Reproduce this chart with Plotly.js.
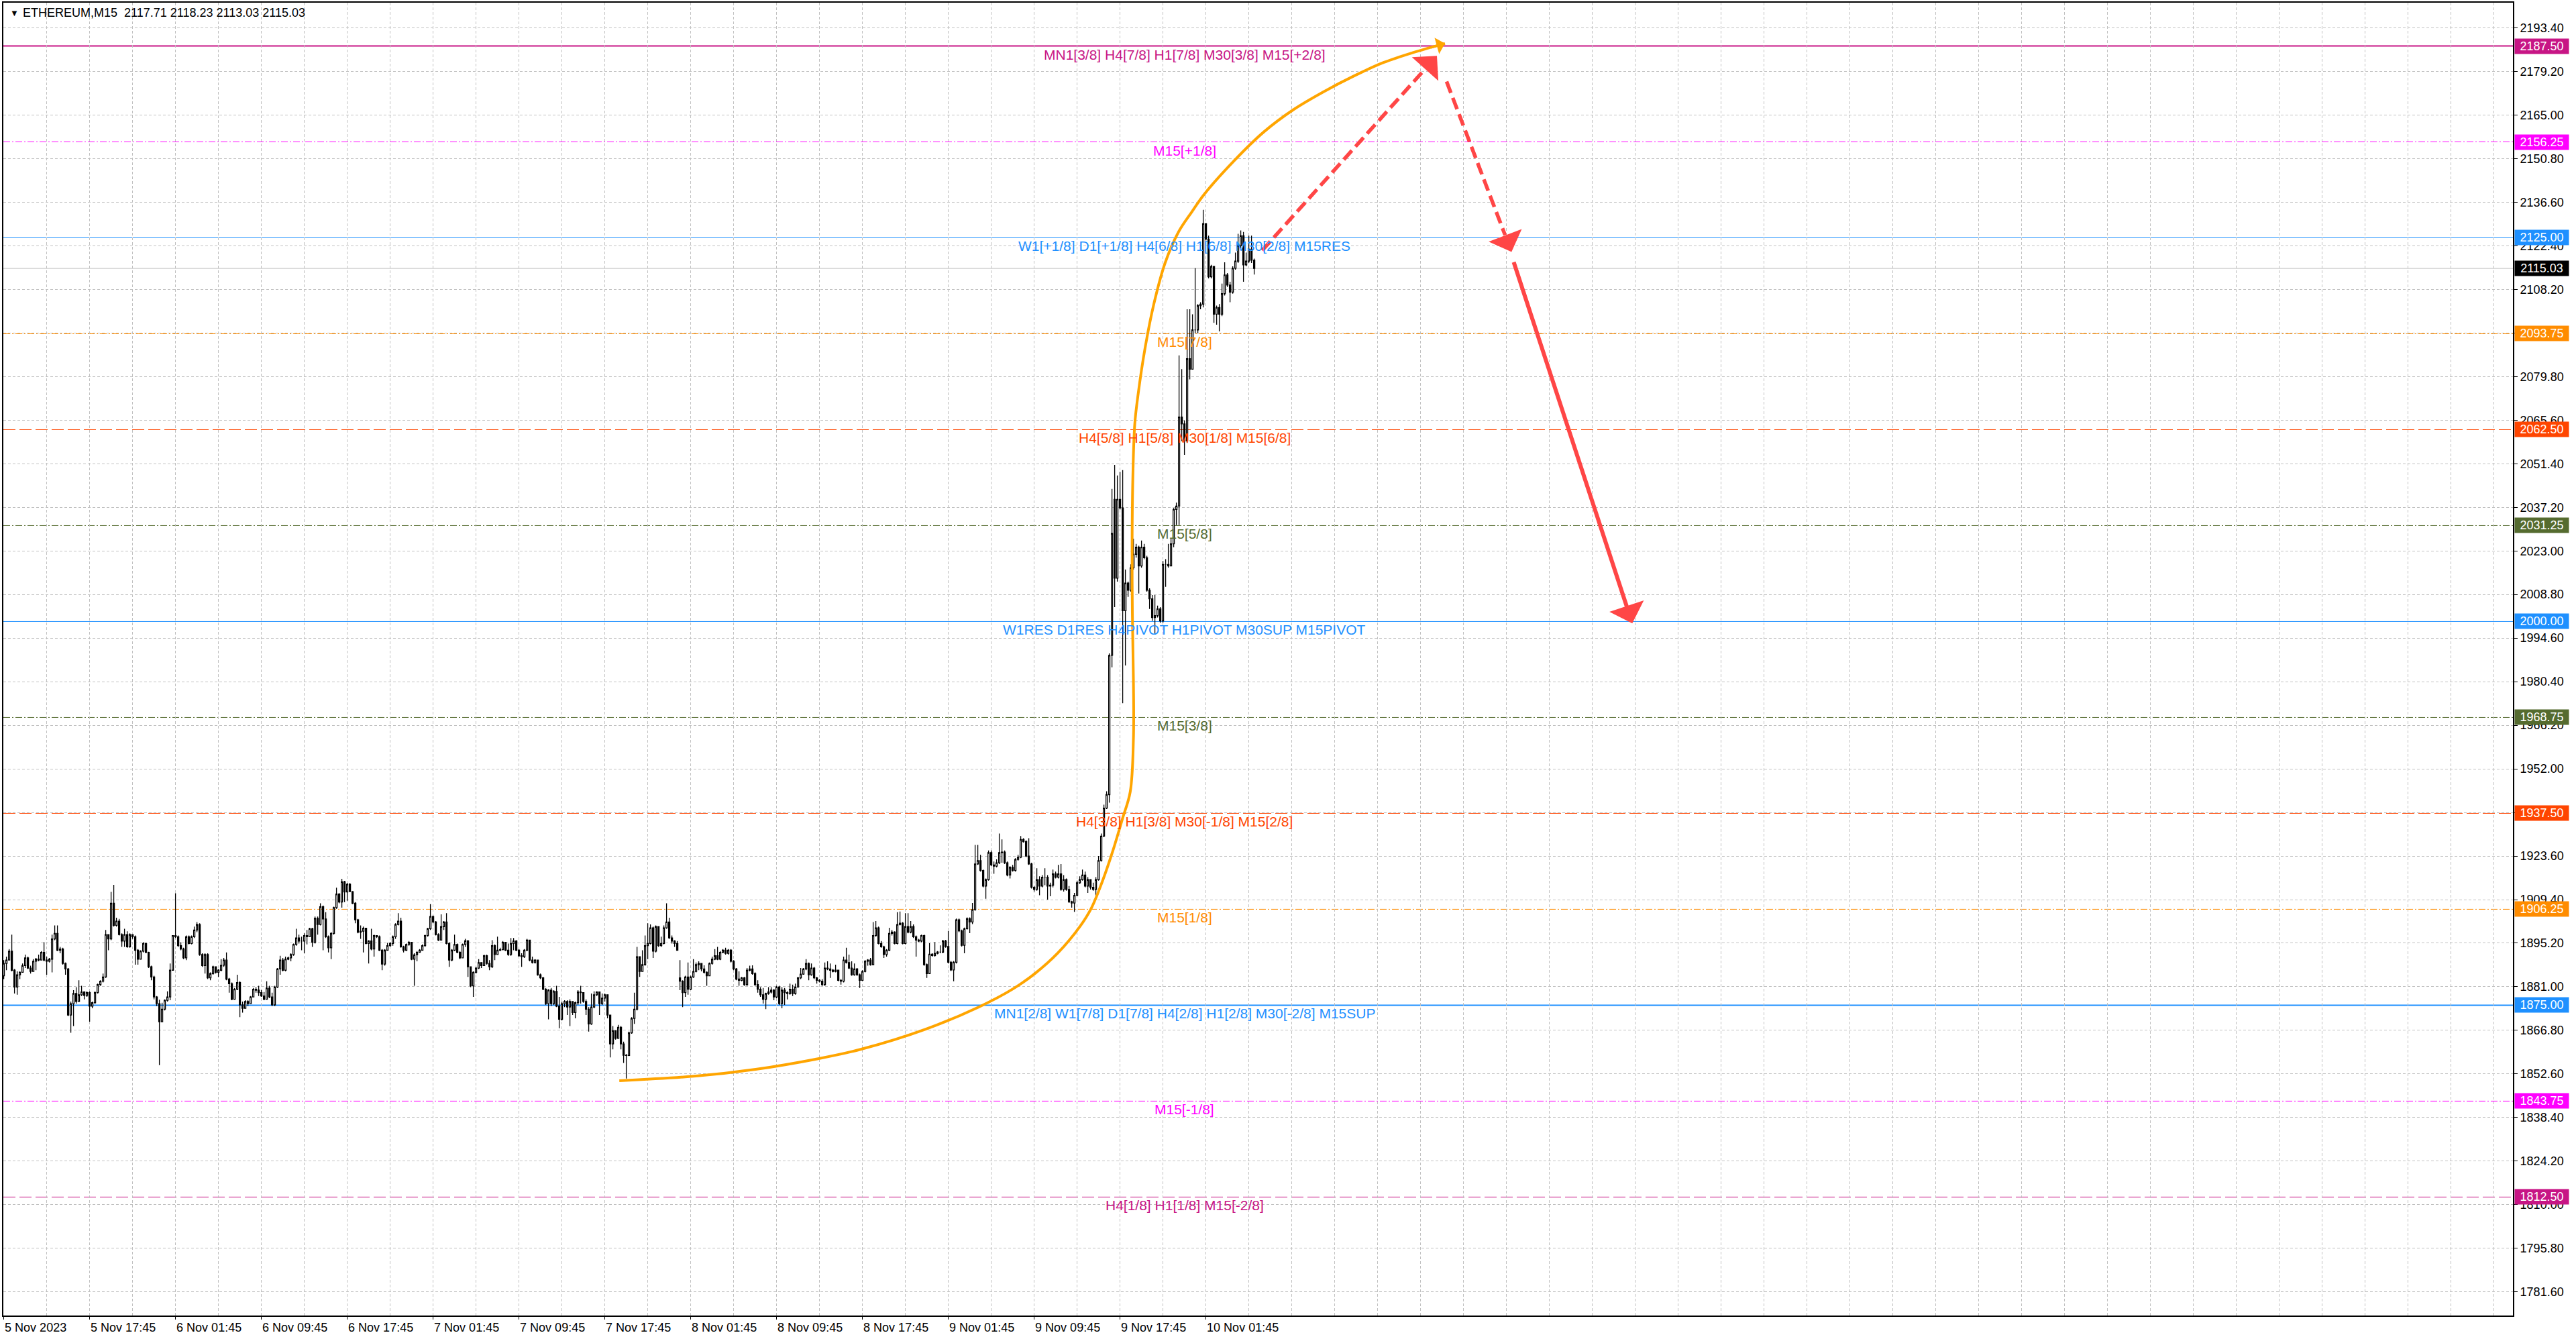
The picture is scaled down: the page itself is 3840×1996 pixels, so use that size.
<!DOCTYPE html>
<html><head><meta charset="utf-8">
<script src="https://cdn.plot.ly/plotly-3.0.1.min.js"></script>
<style>html,body{margin:0;padding:0;background:#fff;}#chart{width:3840px;height:1996px;}</style>
</head><body><div id="chart"></div>
<script>
// ---------- DATA (M15 bars, index 0 = 5 Nov 2023 09:45) ----------
const firstOpen = 1884.6;
const gapOpens = {252: 1883.9, 414: 2039.8};

const closes = [
1888.6,1889.7,1892.6,1886.4,1880.9,1884.9,1885.7,1887.9,1890.4,1887.1,
1886.0,1889.3,1890.0,1889.7,1892.2,1889.7,1889.3,1890.0,1896.6,1898.4,
1892.9,1893.3,1888.6,1886.8,1871.8,1875.5,1878.8,1876.2,1878.4,1879.3,
1878.2,1879.1,1874.7,1875.8,1879.1,1881.7,1882.8,1884.2,1898.0,1896.6,
1908.2,1901.0,1902.4,1898.0,1895.9,1898.0,1894.0,1898.0,1897.3,1892.9,
1890.0,1892.6,1895.1,1892.2,1887.5,1884.2,1877.7,1875.5,1869.6,1873.7,
1876.6,1877.7,1886.4,1897.7,1897.3,1894.4,1893.3,1890.4,1897.3,1895.1,
1897.3,1899.5,1901.3,1891.5,1887.9,1891.5,1883.9,1885.3,1887.5,1885.7,
1886.4,1888.0,1889.7,1883.5,1882.0,1876.9,1880.2,1882.4,1875.1,1874.0,
1876.2,1875.5,1877.7,1880.2,1879.9,1879.1,1878.0,1876.9,1880.6,1877.7,
1875.1,1880.9,1886.8,1889.7,1886.4,1890.0,1890.4,1891.5,1894.8,1896.9,
1895.9,1895.9,1897.7,1897.3,1899.9,1895.5,1903.3,1901.3,1907.1,1903.1,
1897.3,1893.7,1898.4,1906.8,1911.2,1908.6,1915.2,1911.9,1914.4,1912.0,
1908.2,1902.8,1898.8,1899.1,1900.1,1895.1,1895.9,1893.3,1897.7,1897.3,
1892.9,1888.4,1892.9,1894.4,1895.1,1897.3,1901.3,1902.4,1894.0,1892.9,
1894.8,1895.5,1890.0,1891.4,1892.2,1892.9,1894.4,1897.7,1899.9,1903.9,
1902.1,1898.0,1896.2,1900.6,1902.1,1895.1,1889.7,1892.9,1894.8,1892.2,
1890.4,1894.8,1896.0,
1887.5,1881.3,1885.7,1887.1,1888.9,1887.9,1891.1,1888.6,
1887.5,1894.4,1891.5,1892.9,1893.1,1895.5,1892.9,1891.5,1895.1,1895.9,
1892.9,1891.1,1890.8,1892.9,1896.2,1889.7,1888.9,1889.7,1884.9,1883.9,
1880.2,1875.5,1879.9,1875.5,1879.5,1874.7,1870.4,1875.5,1876.2,1874.4,
1876.2,1872.6,1875.8,1879.3,
1879.1,1876.2,1873.7,1868.9,1874.4,1878.4,1879.3,1875.5,1877.3,1878.4,1871.8,
1862.4,1866.7,1864.2,1867.8,1862.4,1858.7,1858.6,1866.0,1870.7,1873.7,
1890.8,1886.0,1888.2,1894.4,1895.1,1900.2,1892.6,1900.6,1894.4,1895.1,
1900.2,1902.1,1896.9,1895.9,1895.1,1892.9,1882.8,1879.1,1884.2,1880.2,
1884.2,1886.0,1888.2,1888.6,1886.8,1885.7,1884.6,1888.6,1890.0,1891.1,
1890.0,1892.2,1892.9,1891.9,1892.9,1889.3,1886.8,
1883.5,1883.1,1883.9,1881.7,1886.4,1886.8,1885.3,1881.7,1880.2,1878.4,
1876.9,1878.8,1879.3,1879.9,1877.7,1880.9,1875.5,1879.9,1879.1,1878.8,
1880.2,1878.8,1880.9,
1883.9,1885.1,1886.8,1888.6,1884.9,1887.1,1883.9,1883.1,1882.8,1881.7,
1887.1,1886.8,1886.4,1886.0,1886.4,1883.1,1882.8,1889.7,1888.9,1887.1,
1884.9,1886.8,1884.9,1883.1,1886.0,1889.3,1889.7,1888.2,1897.7,1900.2,
1895.1,1894.0,1891.5,1892.9,1898.4,1898.8,1895.1,1901.3,1901.7,1895.1,
1900.6,1898.8,1900.6,1897.3,1896.2,1895.9,1897.7,1888.2,1885.3,
1891.6,1891.2,1891.9,1892.3,1892.3,1895.9,1894.1,1889.0,1886.5,1889.0,
1902.8,1899.2,1894.5,1899.9,1903.2,1902.1,1906.1,1921.0,1922.1,1918.9,
1913.8,1915.9,1924.7,1920.7,1920.3,1921.4,1924.7,1924.9,1921.4,1917.4,
1919.9,1918.9,1922.5,1923.2,1929.0,1928.3,1923.6,1921.0,1913.4,1912.7,
1915.9,1913.8,1916.7,1916.7,1913.8,1914.1,1917.8,1916.7,1917.8,1912.7,
1915.9,1912.7,1908.7,1908.3,1910.8,1914.9,1915.9,1917.4,1913.8,1915.9,
1913.4,1912.7,1915.9,1922.1,1930.1,1939.2,1943.6,
1989.0,2028.7,2014.1,2039.8,2037.0,2003.5,2012.5,2010.2,2017.5,2021.9,
2024.2,2018.1,2024.2,2020.8,2010.2,2007.4,2001.3,2001.9,2004.1,2000.2,
2018.6,2018.6,2018.1,2025.3,2036.5,2037.6,2066.6,2064.4,2058.8,2085.6,
2082.2,2095.0,2095.0,2102.9,2103.4,2129.6,2124.6,2112.3,2115.7,2100.1,
2102.3,2100.1,2106.8,2112.9,2109.6,2107.3,2115.1,2117.4,2122.4,2125.7,
2116.2,2117.4,2121.3,2117.71,2115.03
];

const highs = [
1889.7,1890.8,1893.3,1898.0,1886.8,1886.0,1886.0,1888.6,1891.5,1890.8,
1887.9,1890.0,1890.4,1891.5,1892.6,1895.5,1890.8,1890.4,1898.0,1901.0,
1901.0,1894.0,1893.7,1888.9,1887.1,1876.2,1879.9,1880.9,1883.1,1881.3,
1879.5,1879.5,1879.5,1876.2,1879.5,1882.0,1883.1,1885.3,1899.5,1898.0,
1911.9,1914.2,1903.5,1903.1,1898.4,1899.9,1899.1,1898.4,1898.0,1897.7,
1893.3,1892.9,1895.5,1895.3,1892.4,1887.9,1884.6,1878.0,1876.8,1875.8,
1876.9,1879.5,1888.6,1897.7,1911.5,1897.7,1895.5,1893.7,1897.7,1897.7,
1897.7,1900.6,1902.1,1901.7,1891.9,1891.9,1891.9,1885.7,1887.9,1887.5,
1886.8,1890.0,1890.4,1892.2,1883.9,1882.4,1880.6,1884.9,1882.8,1876.2,
1876.6,1876.6,1878.0,1880.6,1880.9,1881.3,1879.9,1879.3,1882.8,1881.3,
1879.1,1881.3,1887.1,1891.1,1890.4,1890.8,1890.8,1891.9,1895.1,1899.9,
1898.0,1897.3,1898.4,1899.5,1900.2,1900.2,1903.9,1903.9,1908.2,1907.5,
1905.3,1897.7,1898.8,1907.1,1913.3,1911.5,1916.2,1915.5,1914.8,1914.8,
1912.2,1908.6,1903.1,1901.0,1900.6,1900.2,1896.2,1899.9,1898.0,1897.7,
1897.7,1893.3,1893.3,1895.3,1895.5,1897.7,1901.7,1905.0,1903.5,1894.4,
1895.1,1895.9,1895.5,1891.9,1892.6,1893.3,1894.8,1898.0,1900.2,1907.9,
1904.2,1902.4,1898.4,1904.6,1902.4,1905.0,1895.5,1893.3,1898.0,1895.1,
1892.6,1895.1,1896.6,
1896.2,1887.5,1886.0,1887.5,1890.0,1888.6,1891.5,1891.5,
1889.7,1896.2,1894.8,1897.3,1893.7,1895.9,1895.5,1895.1,1896.9,1896.9,
1896.2,1893.3,1891.9,1893.3,1896.6,1895.9,1890.8,1890.0,1889.7,1885.3,
1884.2,1880.6,1880.2,1880.6,1879.9,1881.3,1877.7,1876.2,1876.6,1876.6,
1876.9,1875.8,1876.2,1879.9,
1881.3,1879.1,1876.9,1874.4,1878.8,1879.5,1879.5,1879.1,1878.8,1878.8,1878.4,
1871.8,1868.2,1866.7,1868.6,1868.2,1863.1,1859.1,1866.4,1871.1,1879.1,
1894.0,1890.9,1892.9,1897.7,1901.7,1901.3,1900.6,1901.0,1900.6,1897.3,
1901.0,1908.2,1903.5,1897.7,1896.2,1895.9,1889.7,1883.1,1884.6,1888.9,
1884.6,1890.0,1888.9,1889.3,1888.6,1888.0,1886.0,1888.9,1890.8,1893.3,
1894.0,1892.6,1893.3,1893.7,1893.3,1893.3,1889.7,
1887.1,1886.0,1884.2,1884.2,1887.1,1887.9,1888.0,1885.7,1883.1,1880.9,
1880.6,1879.1,1880.9,1880.9,1880.2,1881.3,1881.3,1880.9,1880.6,1879.5,
1882.0,1881.7,1882.0,
1884.2,1887.1,1887.1,1890.0,1888.9,1888.6,1887.5,1884.2,1883.5,1883.5,
1888.9,1889.3,1888.6,1886.8,1888.2,1886.4,1883.5,1890.8,1893.7,1891.5,
1889.3,1888.6,1887.1,1885.3,1886.4,1889.7,1890.0,1890.4,1902.1,1902.4,
1900.6,1895.9,1894.4,1893.3,1900.2,1899.5,1899.1,1905.3,1905.5,1902.1,
1905.0,1905.0,1902.4,1901.3,1897.7,1896.6,1898.0,1898.0,1888.6,
1895.2,1891.9,1895.6,1892.6,1894.5,1896.3,1896.3,1899.2,1889.4,1889.4,
1903.2,1903.2,1899.6,1900.3,1903.6,1903.6,1908.3,1927.2,1927.2,1924.0,
1919.2,1916.3,1925.4,1925.4,1921.8,1922.5,1930.9,1929.0,1925.4,1921.8,
1920.3,1920.7,1922.9,1924.0,1930.1,1929.4,1928.7,1929.4,1921.4,1913.8,
1919.6,1917.0,1917.4,1919.6,1917.4,1914.9,1919.2,1918.5,1920.7,1921.0,
1917.4,1916.3,1913.8,1909.0,1911.6,1915.6,1917.0,1919.2,1918.5,1916.7,
1915.6,1914.9,1916.7,1923.6,1930.9,1940.3,1944.7,
1989.6,2043.2,2051.0,2047.6,2048.7,2049.3,2016.9,2013.0,2018.6,2027.0,
2025.3,2024.7,2026.4,2025.3,2021.4,2010.8,2008.6,2008.6,2005.2,2004.7,
2019.7,2020.3,2025.3,2027.0,2037.0,2038.7,2086.7,2082.2,2065.5,2101.7,
2101.7,2100.1,2115.1,2103.4,2104.0,2134.1,2129.6,2125.7,2116.2,2115.7,
2102.9,2103.4,2110.1,2117.0,2113.5,2110.7,2115.7,2120.2,2126.3,2127.4,
2126.9,2120.2,2125.7,2125.7,2118.23
];

const lows = [
1883.5,1886.4,1889.7,1886.0,1878.8,1878.4,1883.5,1885.7,1887.1,1886.8,
1885.3,1886.0,1886.4,1889.3,1889.7,1889.3,1884.9,1888.9,1885.7,1896.2,
1892.6,1891.9,1888.2,1884.9,1871.5,1866.0,1868.2,1875.5,1877.7,1878.0,
1876.9,1877.7,1869.6,1874.0,1875.5,1878.8,1881.3,1882.4,1883.9,1892.9,
1896.2,1900.6,1900.6,1897.7,1894.0,1894.0,1893.7,1893.7,1896.6,1888.2,
1888.2,1891.9,1892.2,1891.9,1887.1,1883.1,1876.9,1874.7,1855.5,1870.7,
1873.3,1876.2,1876.6,1886.4,1896.9,1894.0,1892.9,1890.0,1889.7,1894.8,
1894.8,1896.9,1898.8,1891.1,1887.5,1885.3,1883.5,1883.1,1884.9,1885.3,
1884.2,1886.0,1887.5,1883.1,1879.1,1876.6,1877.3,1879.9,1871.1,1872.6,
1874.0,1874.7,1875.5,1877.7,1879.1,1878.0,1877.7,1876.6,1876.9,1877.3,
1874.7,1874.7,1880.6,1884.9,1886.0,1886.0,1889.7,1889.3,1891.1,1894.4,
1895.1,1892.9,1891.9,1894.8,1897.3,1894.0,1895.1,1898.0,1901.0,1892.9,
1896.9,1892.2,1890.0,1898.0,1906.4,1908.2,1906.8,1908.6,1909.0,1911.9,
1907.9,1901.7,1898.4,1896.6,1892.2,1894.8,1888.6,1892.9,1890.8,1896.9,
1892.6,1886.4,1887.9,1894.0,1894.0,1894.4,1896.6,1901.0,1893.7,1892.2,
1892.6,1894.4,1889.7,1881.3,1889.3,1892.2,1893.7,1894.0,1897.3,1899.5,
1901.7,1897.7,1895.9,1898.0,1899.5,1894.8,1887.5,1889.3,1892.6,1891.9,
1890.0,1890.8,1894.0,
1884.2,1880.9,1877.7,1885.3,1886.8,1887.1,1887.9,1888.2,
1886.4,1887.1,1889.7,1891.5,1892.6,1892.9,1892.6,1891.1,1891.1,1892.9,
1892.6,1890.8,1887.5,1890.4,1892.6,1889.3,1888.6,1888.6,1884.6,1883.5,
1879.9,1875.1,1870.4,1874.7,1875.1,1874.4,1867.5,1870.0,1874.4,1871.8,
1868.2,1871.8,1870.7,1875.1,
1875.5,1875.8,1871.8,1866.4,1868.6,1874.0,1878.0,1871.8,1875.1,1876.2,1870.7,
1858.0,1860.6,1863.8,1864.2,1860.6,1856.2,1851.1,1858.4,1865.7,1868.9,
1873.3,1884.2,1886.0,1887.9,1890.0,1894.8,1890.4,1892.2,1894.0,1894.0,
1894.8,1899.9,1896.6,1895.1,1894.0,1892.9,1879.9,1874.4,1877.7,1878.4,
1879.9,1883.9,1885.7,1886.4,1886.0,1885.3,1881.3,1884.6,1888.2,1889.7,
1889.7,1889.7,1891.9,1891.5,1891.5,1888.9,1886.4,
1883.1,1881.3,1882.8,1881.3,1881.3,1886.0,1884.9,1881.3,1879.1,1877.7,
1875.5,1873.7,1878.4,1878.8,1876.6,1877.3,1875.1,1874.0,1875.1,1876.9,
1878.4,1878.0,1878.4,
1880.9,1883.5,1884.9,1886.4,1883.1,1884.6,1883.5,1882.0,1882.4,1881.3,
1881.3,1886.4,1883.9,1885.7,1885.7,1882.8,1881.7,1882.4,1888.6,1886.8,
1884.6,1884.6,1884.6,1880.6,1883.1,1885.7,1887.9,1887.9,1888.2,1897.3,
1894.8,1893.7,1890.4,1890.8,1892.6,1897.7,1894.8,1894.8,1901.0,1894.8,
1894.8,1898.4,1898.4,1896.9,1890.8,1895.5,1895.5,1887.9,1883.9,
1891.2,1890.8,1890.8,1891.6,1891.9,1891.9,1893.7,1888.6,1886.1,1882.8,
1888.6,1898.8,1894.1,1891.9,1899.6,1898.5,1901.4,1905.8,1920.7,1918.5,
1913.4,1909.7,1915.6,1920.3,1917.8,1919.9,1921.0,1921.4,1921.0,1917.0,
1916.3,1918.5,1918.5,1922.1,1922.9,1928.0,1923.2,1920.7,1913.0,1912.0,
1912.3,1910.8,1913.4,1914.1,1909.4,1910.5,1913.4,1916.3,1916.3,1912.3,
1912.0,1912.3,1908.3,1906.8,1905.4,1910.5,1914.5,1915.6,1913.4,1911.6,
1912.7,1912.3,1909.4,1915.6,1921.8,1929.8,1938.9,
1941.0,1985.1,2004.7,2013.0,2036.5,1973.4,1985.7,2008.0,2009.7,2016.9,
2020.8,2009.1,2017.5,2020.3,2009.7,2004.1,2000.2,1995.7,2001.3,1999.6,
1999.6,2011.3,2017.5,2018.1,2024.2,2031.4,2031.4,2058.8,2054.3,2058.2,
2078.9,2082.2,2093.9,2093.9,2101.7,2102.3,2124.1,2111.8,2111.8,2097.3,
2096.7,2094.5,2099.5,2106.2,2109.0,2104.0,2106.8,2114.6,2116.8,2121.8,
2110.7,2115.7,2116.8,2116.8,2113.03
];

// Murrey-math style levels
const levels      = [2187.5, 2156.25, 2125, 2093.75, 2062.5, 2031.25, 2000, 1968.75, 1937.5, 1906.25, 1875, 1843.75, 1812.5];
const levelColors = ['#C71585','#FF00FF','#1E90FF','#FF8C00','#FF4500','#556B2F','#1E90FF','#556B2F','#FF4500','#FF8C00','#1E90FF','#FF00FF','#C71585'];
const levelStyles = ['solid','dashdot','solid','dashdot','long','dashdot','solid','dashdot','long','dashdot','solid','dashdot','long'];
const levelWidths = [2,1,1,1,1,1,1,1,1,1,2,1,1];
const levelLabels = [
 'MN1[3/8] H4[7/8] H1[7/8] M30[3/8] M15[+2/8]',
 'M15[+1/8]',
 'W1[+1/8] D1[+1/8] H4[6/8] H1[6/8] M30[2/8] M15RES',
 'M15[7/8]',
 'H4[5/8] H1[5/8] M30[1/8] M15[6/8]',
 'M15[5/8]',
 'W1RES D1RES H4PIVOT H1PIVOT M30SUP M15PIVOT',
 'M15[3/8]',
 'H4[3/8] H1[3/8] M30[-1/8] M15[2/8]',
 'M15[1/8]',
 'MN1[2/8] W1[7/8] D1[7/8] H4[2/8] H1[2/8] M30[-2/8] M15SUP',
 'M15[-1/8]',
 'H4[1/8] H1[1/8] M15[-2/8]'
];
const labelBar = 440;
const currentPrice = 2115.03;

// time axis labels (bar index -> text)
const timeTickBars = [0,32,64,96,128,160,192,224,256,288,320,352,384,416,448];
const timeTickText = ['5 Nov 2023','5 Nov 17:45','6 Nov 01:45','6 Nov 09:45','6 Nov 17:45','7 Nov 01:45','7 Nov 09:45','7 Nov 17:45','8 Nov 01:45','8 Nov 09:45','8 Nov 17:45','9 Nov 01:45','9 Nov 09:45','9 Nov 17:45','10 Nov 01:45'];

// drawn objects (bar index, price)
const arcBars   = [229.4,257.9,280.2,302.5,319.3,343.6,363.6,376.1,384.4,392.8,401.1,405.3,409.4,413.4,416.9,419.8,421.0,421.0,420.6,420.5,420.8,421.5,422.8,425.3,428.6,432.8,437.8,442.8,447.3,458.4,469.6,480.7,491.9,503.1,514.2,525.4,537.1];
const arcPrices = [1850.4,1851.9,1854.1,1857.4,1860.6,1867.2,1874.5,1880.3,1885.4,1892.0,1900.7,1906.6,1915.3,1925.5,1935.7,1944.5,1962.0,1980.7,2003.0,2025.3,2047.6,2064.4,2074.4,2088.9,2103.4,2116.8,2126.9,2133.5,2139.1,2150.0,2159.5,2166.8,2172.6,2177.7,2182.1,2185.4,2188.3];
const arrowDash1 = [[469.0,2120.9],[529.6,2179.9],[534.1,2184.3]]; // tail, head base, tip
const arrowDash2 = [[537.7,2175.9],[559.5,2125.9],[561.9,2120.4]];
const arrowSolid = [[562.6,2117.4],[606.9,1999.4]];

// ---------- BUILD ----------
const FONT = 'Liberation Sans, Arial, sans-serif';
const RED = '#FF4646';
const xs = closes.map((_, i) => i);
const opens = closes.map((c, i) => (gapOpens[i] !== undefined ? gapOpens[i] : (i === 0 ? firstOpen : closes[i - 1])));
const hi = highs.map((h, i) => Math.max(h, opens[i], closes[i]));
const lo = lows.map((l, i) => Math.min(l, opens[i], closes[i]));

const dashMap = {solid: 'solid', dashdot: '10px,3px,2px,3px', long: '18px,6px'};

const traces = [
  {
    type: 'candlestick', x: xs, open: opens, high: hi, low: lo, close: closes,
    increasing: {line: {color: '#000000', width: 1.3}, fillcolor: '#FFFFFF'},
    decreasing: {line: {color: '#000000', width: 1.3}, fillcolor: '#000000'},
    whiskerwidth: 0, hoverinfo: 'skip', showlegend: false
  },
  {
    type: 'scatter', mode: 'lines', x: arcBars, y: arcPrices,
    line: {color: '#FFA500', width: 4, shape: 'spline', smoothing: 1},
    hoverinfo: 'skip', showlegend: false
  }
];

const shapes = [];
levels.forEach((lv, i) => {
  shapes.push({type: 'line', xref: 'paper', x0: 0, x1: 1, yref: 'y', y0: lv, y1: lv, layer: 'between',
    line: {color: levelColors[i], width: levelWidths[i], dash: dashMap[levelStyles[i]]}});
});
shapes.push({type: 'line', xref: 'paper', x0: 0, x1: 1, yref: 'y', y0: currentPrice, y1: currentPrice, layer: 'between',
  line: {color: '#C0C0C0', width: 1}});
[arrowDash1, arrowDash2].forEach(a => {
  shapes.push({type: 'line', xref: 'x', yref: 'y', x0: a[0][0], y0: a[0][1], x1: a[1][0], y1: a[1][1], layer: 'above',
    line: {color: RED, width: 5.5, dash: '18px,8px'}});
});

const annotations = [];
levels.forEach((lv, i) => {
  annotations.push({xref: 'x', yref: 'y', x: labelBar, y: lv, yshift: -12.5, yanchor: 'middle', xanchor: 'center',
    text: levelLabels[i], showarrow: false, font: {family: FONT, size: 21, color: levelColors[i]}});
  annotations.push({xref: 'paper', yref: 'y', x: 1, y: lv, xanchor: 'left', xshift: 2, yanchor: 'middle',
    text: lv.toFixed(2), showarrow: false, bgcolor: levelColors[i], width: 76, height: 18, borderpad: 2, align: 'center',
    font: {family: FONT, size: 18, color: '#FFFFFF'}});
});
annotations.push({xref: 'paper', yref: 'y', x: 1, y: currentPrice, xanchor: 'left', xshift: 2, yanchor: 'middle',
  text: currentPrice.toFixed(2), showarrow: false, bgcolor: '#000000', width: 76, height: 18, borderpad: 2, align: 'center',
  font: {family: FONT, size: 18, color: '#FFFFFF'}});
// arrowheads
[arrowDash1, arrowDash2].forEach(a => {
  annotations.push({xref: 'x', yref: 'y', x: a[2][0], y: a[2][1], axref: 'x', ayref: 'y', ax: a[1][0], ay: a[1][1],
    text: '', showarrow: true, arrowhead: 1, arrowsize: 1.6, arrowwidth: 5.5, arrowcolor: RED, standoff: 0, startstandoff: 0});
});
annotations.push({xref: 'x', yref: 'y', x: arrowSolid[1][0], y: arrowSolid[1][1], axref: 'x', ayref: 'y', ax: arrowSolid[0][0], ay: arrowSolid[0][1],
  text: '', showarrow: true, arrowhead: 1, arrowsize: 1.5, arrowwidth: 6, arrowcolor: RED, standoff: 0, startstandoff: 0});
const nA = arcBars.length;
annotations.push({xref: 'x', yref: 'y', x: arcBars[nA - 1], y: arcPrices[nA - 1], axref: 'x', ayref: 'y', ax: arcBars[nA - 2] + 6, ay: arcPrices[nA - 2] + 1.5,
  text: '', showarrow: true, arrowhead: 1, arrowsize: 1.2, arrowwidth: 3.5, arrowcolor: '#FFA500', standoff: 0});
// title
annotations.push({xref: 'paper', yref: 'paper', x: 0, y: 1, xshift: 8, yshift: -15, xanchor: 'left', yanchor: 'middle',
  text: '\u25BC', showarrow: false, font: {family: FONT, size: 13, color: '#000000'}});
annotations.push({xref: 'paper', yref: 'paper', x: 0, y: 1, xshift: 27, yshift: -15, xanchor: 'left', yanchor: 'middle',
  text: 'ETHEREUM,M15\u00a0\u00a02117.71 2118.23 2113.03 2115.03', showarrow: false, font: {family: FONT, size: 18, color: '#000000'}});

const layout = {
  width: 3840, height: 1996,
  margin: {l: 5, r: 94, t: 4, b: 35, pad: 0},
  paper_bgcolor: '#FFFFFF', plot_bgcolor: '#FFFFFF',
  showlegend: false,
  xaxis: {
    range: [-0.15, 935.1], fixedrange: true,
    rangeslider: {visible: false},
    tickmode: 'array', tickvals: timeTickBars, ticktext: timeTickText,
    ticks: 'outside', ticklen: 4, tickcolor: '#000000', tickwidth: 1,
    ticklabelposition: 'outside right',
    tickfont: {family: FONT, size: 18, color: '#000000'},
    showgrid: true, gridcolor: '#C0C0C0', gridwidth: 1, griddash: '4px,3px',
    minor: {tickmode: 'linear', tick0: 0, dtick: 16, showgrid: true, gridcolor: '#C0C0C0', gridwidth: 1, griddash: '4px,3px', ticks: ''},
    showline: true, linecolor: '#000000', linewidth: 2, mirror: true, zeroline: false
  },
  yaxis: {
    side: 'right', range: [1773.9, 2201.6], fixedrange: true,
    tickmode: 'linear', tick0: 1781.6, dtick: 14.2, tickformat: '.2f',
    ticks: 'outside', ticklen: 5, tickcolor: '#000000', tickwidth: 1,
    tickfont: {family: FONT, size: 18, color: '#000000'},
    showgrid: true, gridcolor: '#C0C0C0', gridwidth: 1, griddash: '4px,3px',
    showline: true, linecolor: '#000000', linewidth: 2, mirror: true, zeroline: false
  },
  shapes: shapes,
  annotations: annotations
};

Plotly.newPlot('chart', traces, layout, {staticPlot: true, displayModeBar: false});
</script></body></html>
